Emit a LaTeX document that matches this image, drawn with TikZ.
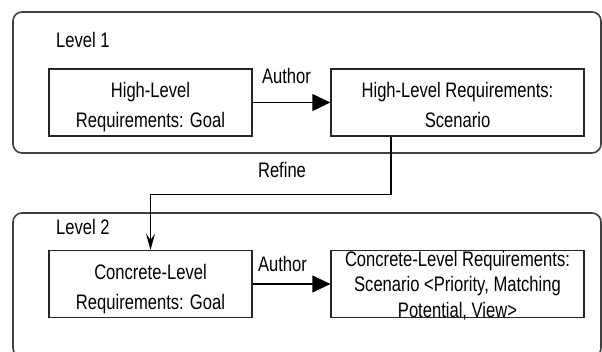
\documentclass[tikz,border=0pt]{standalone}
\usepackage{fontspec}
\setmainfont{Liberation Sans}
\usetikzlibrary{arrows.meta}
% slightly condensed text, as in the original figure
\newcommand{\nar}[1]{\scalebox{0.79}[1]{#1}}
% centred lines; the baseline of the result is that of the first line
\newcommand{\stack}[1]{\nar{\begin{tabular}[t]{@{}c@{}}#1\end{tabular}}}

\begin{document}
\begin{tikzpicture}[x=1pt,y=-1pt,
  levelbox/.style={draw=black!75, line width=1.6pt, rounded corners=9pt,
    inner sep=0pt, minimum width=588pt},
  reqbox/.style={draw=black!85, line width=1.3pt, inner sep=0pt,
    minimum height=67pt},
  lab/.style={inner sep=0pt, anchor=base, font=\fontsize{21}{30}\selectfont},
  authorarrow/.style={-{Triangle[length=18pt,width=17pt]}, line width=1.3pt},
  refinearrow/.style={-{Stealth[length=16pt,width=9pt,inset=6pt]}, line width=1.3pt}]
\useasboundingbox (0,0) rectangle (602,352);
\clip (0,0) rectangle (602,352);

% the two levels
\node[levelbox, minimum height=141pt] (lev1) at (307,82.5) {};
\node[levelbox, minimum height=144pt] (lev2) at (307,285) {};
\node[lab, anchor=base west] (lev1name) at (56,47.7) {\nar{Level 1}};
\node[lab, anchor=base west] (lev2name) at (56,235) {\nar{Level 2}};

% requirement boxes
\node[reqbox, minimum width=203pt] (hgoal) at (150.5,102.5) {};
\node[reqbox, minimum width=253pt] (hscen) at (457.5,102.5) {};
\node[reqbox, minimum width=203pt] (cgoal) at (150.5,284) {};
\node[reqbox, minimum width=253pt] (cscen) at (457.5,284) {};

% their texts
\node[lab] (hgoaltext) at ([yshift=4.5pt]hgoal.center)
  {\stack{High-Level\\Requirements: Goal}};
\node[lab] (hscentext) at ([yshift=4.5pt]hscen.center)
  {\stack{High-Level Requirements:\\Scenario}};
\node[lab] (cgoaltext) at ([yshift=4.5pt]cgoal.center)
  {\stack{Concrete-Level\\Requirements: Goal}};
\node[lab, font=\fontsize{21}{25.3}\selectfont] (cscentext) at ([yshift=17.5pt]cscen.center)
  {\stack{Concrete-Level Requirements:\\Scenario <Priority, Matching\\Potential, View>}};

% connectors
\draw[authorarrow] (hgoal) -- (hscen);
\node[lab] (author1) at (286.5,83.3) {\nar{Author}};
\draw[authorarrow] (cgoal) -- (cscen);
\node[lab] (author2) at (282.5,271.7) {\nar{Author}};
\draw[refinearrow] ([xshift=-66.5pt]hscen.south) -- ++(0,58) -| (cgoal.north);
\node[lab] (refine) at (282,177.3) {\nar{Refine}};
\end{tikzpicture}
\end{document}
